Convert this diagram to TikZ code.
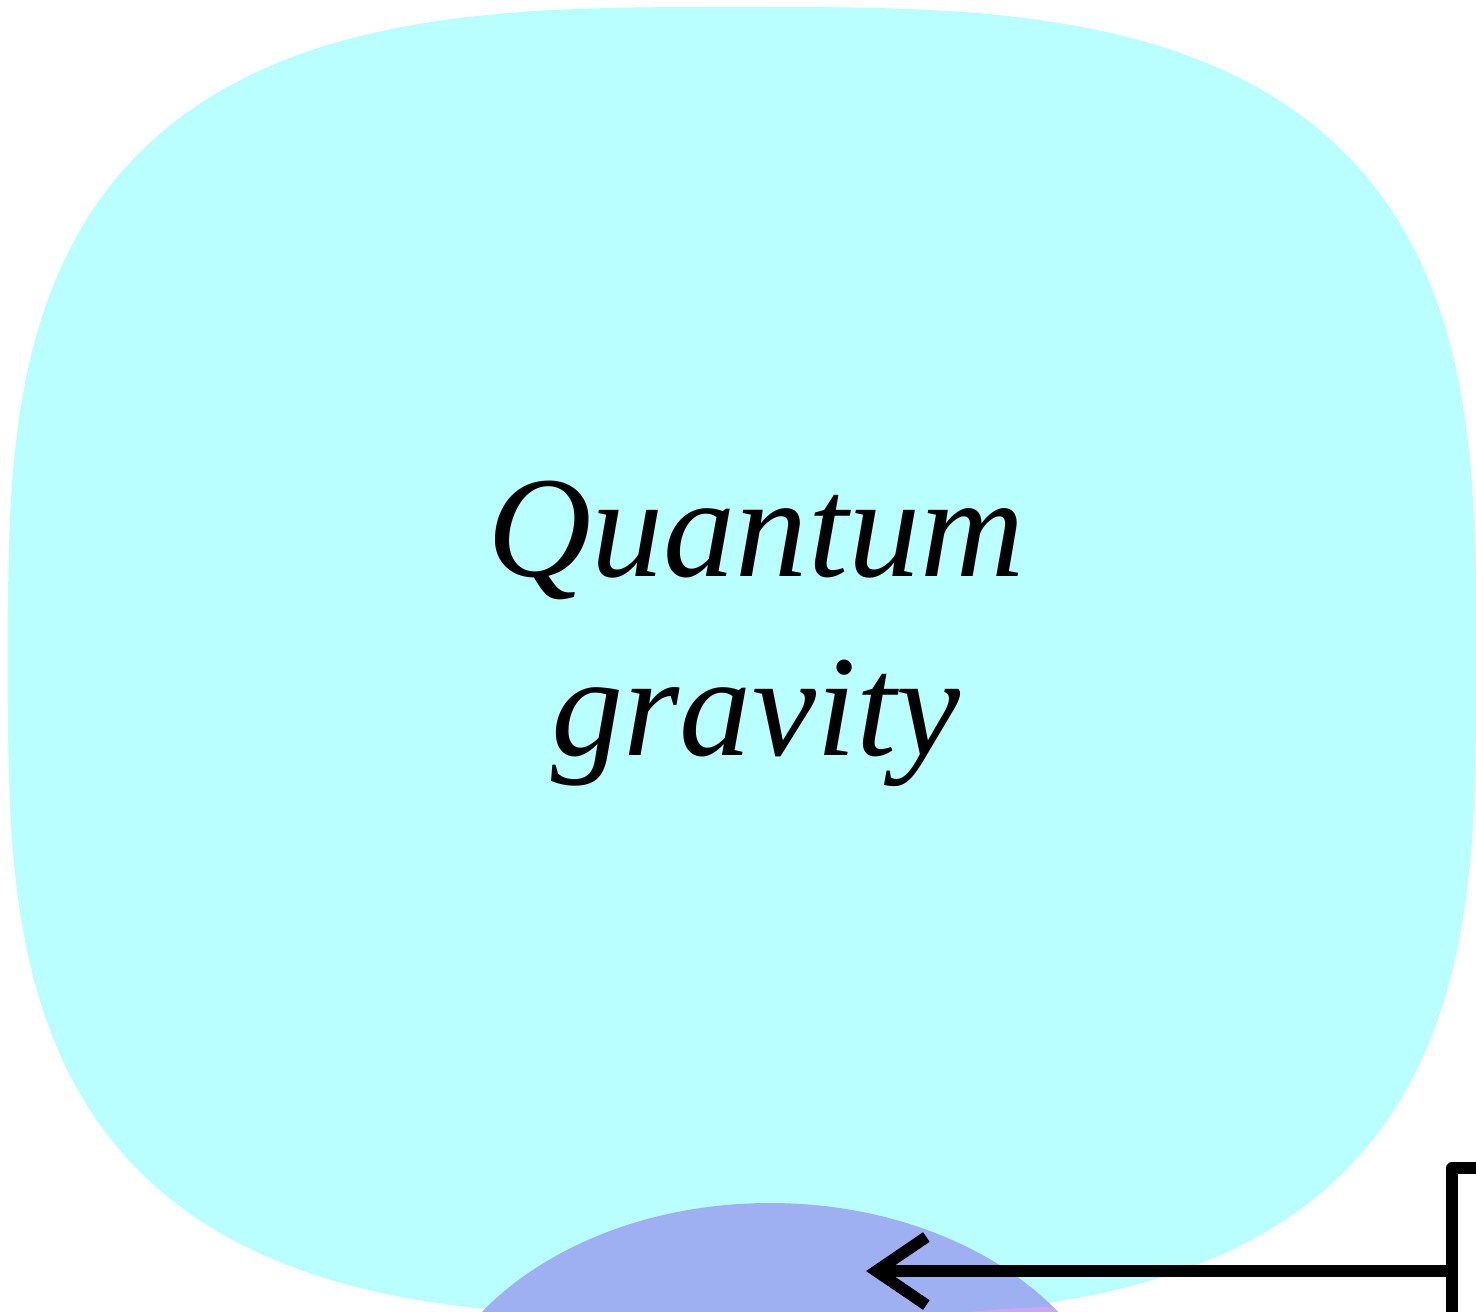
\documentclass[tikz,border=0pt]{standalone}
\usepackage{fontspec}
\setmainfont{Liberation Serif}
\usetikzlibrary{arrows.meta}

\definecolor{qgcyan}{RGB}{185,255,255}
\definecolor{qgblue}{RGB}{158,176,242}
\definecolor{qgpink}{RGB}{200,168,240}

\begin{document}
\begin{tikzpicture}[
    x=0.01cm, y=-0.01cm,
    blob/.style={fill=qgcyan},
    region/.style={fill=qgblue},
    title/.style={font=\fontsize{41}{51}\selectfont\itshape, align=center},
    sketch/.style={line width=3.3pt, black, line cap=round, line join=round}
]

% Frame
\useasboundingbox (0,0) rectangle (1476,1311);

% Quantum gravity blob
\fill[blob] plot[domain=0:360, samples=240, smooth]
    ({742+734*sign(cos(\x))*pow(max(abs(cos(\x)),0.0001),2/3.1)},
     {662+655*sign(sin(\x))*pow(max(abs(sin(\x)),0.0001),2/3.1)}) -- cycle;

% Lower region
\fill[region] (770,1461) ellipse [x radius=353, y radius=258];
\begin{scope}
    \clip (770,1461) ellipse [x radius=353, y radius=258];
    \fill[qgpink] (1060,1500) ellipse [x radius=400, y radius=193];
\end{scope}

% Label
\node[title] (qg) at (756,634) {Quantum\\gravity};

% Arrow
\coordinate (bracket top) at (1476,1168);
\coordinate (bracket corner) at (1452,1168);
\coordinate (bracket foot) at (1452,1311);
\coordinate (arrow start) at (1452,1271);
\coordinate (arrow tip) at (866,1271);
\draw[sketch] (bracket foot) -- (bracket corner) -- (bracket top);
\draw[sketch, -{Straight Barb[length=0.5cm, width=0.68cm]}] (arrow start) -- (arrow tip);

\end{tikzpicture}
\end{document}
